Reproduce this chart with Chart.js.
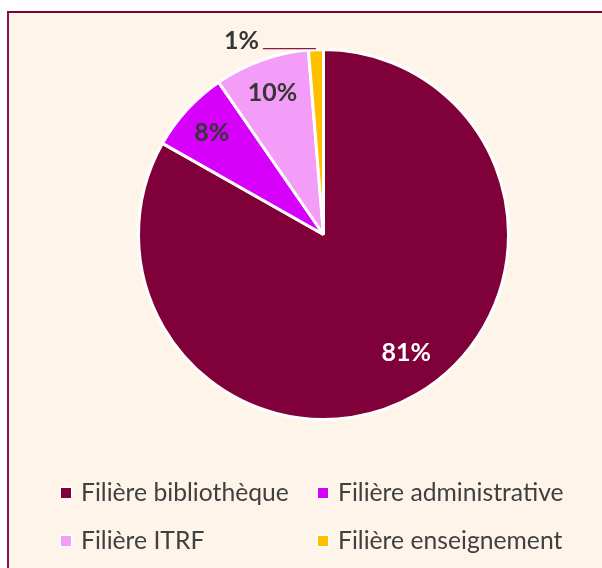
<!DOCTYPE html>
<html>
<head>
<meta charset="utf-8">
<script src="https://cdn.jsdelivr.net/npm/chart.js@4/dist/chart.umd.min.js"></script>
<style>
  html, body { margin: 0; padding: 0; background: #ffffff; width: 602px; height: 568px; overflow: hidden; }
  #frame {
    position: absolute; left: 7px; top: 11px; width: 640px; height: 620px;
    border-top: 2px solid #7f0037; border-left: 2px solid #8a1446;
    background: #fef4ea;
  }
  #chart { position: absolute; left: 0; top: 0; }
</style>
</head>
<body>
<div id="frame"></div>
<canvas id="chart" width="602" height="568"></canvas>
<script>
// categories and values
const categories = ['Filière bibliothèque', 'Filière administrative', 'Filière ITRF', 'Filière enseignement'];
const shares = [83.2, 7.2, 8.3, 1.3];          // slice sizes as drawn
const shareLabels = ['81%', '8%', '10%', '1%']; // labels as printed
const colors = ['#800039', '#d700fa', '#f39cf8', '#ffc000'];

// draws the percentage labels on the slices
const sliceLabels = {
  id: 'sliceLabels',
  afterDatasetsDraw(chart, args, opts) {
    const ctx = chart.ctx;
    const arcs = chart.getDatasetMeta(0).data;
    ctx.save();
    ctx.font = 'bold 25px Lato';
    arcs.forEach((arc, i) => {
      const { x, y, startAngle, endAngle, outerRadius } = arc.getProps(['x', 'y', 'startAngle', 'endAngle', 'outerRadius']);
      const place = opts.place[i];
      const mid = (startAngle + endAngle) / 2 + (place.turn || 0);
      if (place.outside) {
        // leader line going left from the slice edge
        const r = outerRadius + 1.5;
        const sx = x + Math.cos(mid) * r;
        const sy = y + Math.sin(mid) * r;
        ctx.strokeStyle = '#8c1a50';
        ctx.lineWidth = 1.2;
        ctx.beginPath();
        ctx.moveTo(sx, sy + 0.5);
        ctx.lineTo(sx - place.line, sy + 0.5);
        ctx.stroke();
        ctx.fillStyle = place.color;
        ctx.textAlign = 'right';
        ctx.textBaseline = 'alphabetic';
        ctx.fillText(shareLabels[i], sx - place.line - 4, sy + 1);
      } else {
        const px = x + Math.cos(mid) * outerRadius * place.r;
        const py = y + Math.sin(mid) * outerRadius * place.r;
        ctx.fillStyle = place.color;
        ctx.textAlign = 'center';
        ctx.textBaseline = 'middle';
        ctx.fillText(shareLabels[i], px, py + 1);
      }
    });
    ctx.restore();
  }
};

// legend in two columns, as in the picture
const gridLegend = {
  id: 'gridLegend',
  afterDraw(chart, args, opts) {
    const ctx = chart.ctx;
    ctx.save();
    ctx.font = opts.font;
    ctx.textBaseline = 'alphabetic';
    ctx.textAlign = 'left';
    chart.data.labels.forEach((label, i) => {
      const cx = opts.cols[i % 2];
      const by = opts.rows[Math.floor(i / 2)];
      ctx.fillStyle = '#ffffff';
      ctx.fillRect(cx - 1.5, by - 14.5, 13, 13);
      ctx.fillStyle = chart.data.datasets[0].backgroundColor[i];
      ctx.fillRect(cx, by - 13, 10, 10);
      ctx.fillStyle = '#404040';
      ctx.fillText(label, cx + 20, by);
    });
    ctx.restore();
  }
};

new Chart(document.getElementById('chart'), {
  type: 'pie',
  data: {
    labels: categories,
    datasets: [{
      data: shares,
      backgroundColor: colors,
      borderColor: '#ffffff',
      borderWidth: 3
    }]
  },
  options: {
    responsive: false,
    animation: false,
    events: [],
    radius: 185,
    layout: { padding: { left: 139, top: 50, right: 94, bottom: 149 } },
    plugins: {
      legend: { display: false },
      tooltip: { enabled: false },
      sliceLabels: {
        place: [
          { r: 0.777, turn: -0.085, color: '#ffffff' },
          { r: 0.82, color: '#363636' },
          { r: 0.82, color: '#363636' },
          { outside: true, line: 53, color: '#363636' }
        ]
      },
      gridLegend: {
        font: '24.7px Lato',
        cols: [61, 318],
        rows: [501, 549]
      }
    }
  },
  plugins: [sliceLabels, gridLegend]
});
</script>
</body>
</html>
